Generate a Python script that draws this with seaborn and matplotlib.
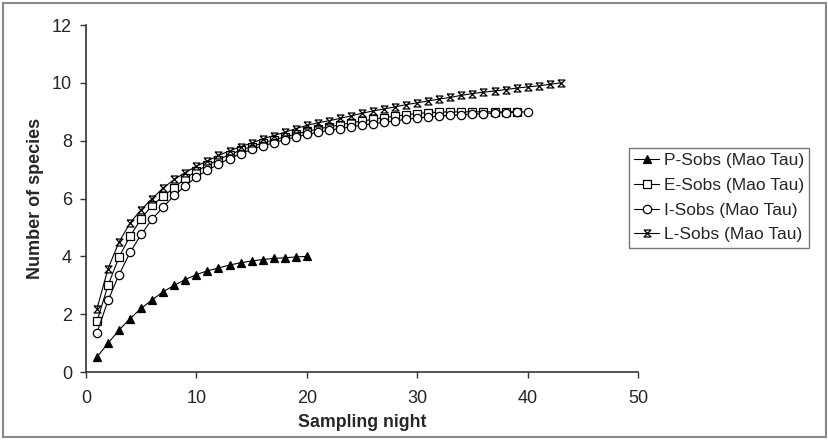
import pandas as pd
import seaborn as sns
import matplotlib.pyplot as plt
from matplotlib.patches import Rectangle

# Species accumulation values
p_sobs = [0.52, 1.0, 1.45, 1.85, 2.2, 2.5, 2.78, 3.0, 3.2, 3.37,
          3.5, 3.6, 3.7, 3.78, 3.84, 3.89, 3.93, 3.95, 3.98, 4.0]
e_sobs = [1.76, 3.0, 3.98, 4.7, 5.3, 5.77, 6.08, 6.38, 6.7, 6.95,
          7.15, 7.35, 7.52, 7.67, 7.8, 7.92, 8.03, 8.13, 8.23, 8.32,
          8.4, 8.48, 8.55, 8.62, 8.68, 8.74, 8.8, 8.85, 8.9, 8.94,
          8.97, 8.99, 9.0, 9.0, 9.0, 9.0, 9.0, 9.0, 9.0]
i_sobs = [1.36, 2.48, 3.37, 4.14, 4.76, 5.29, 5.71, 6.11, 6.44, 6.75,
          6.98, 7.19, 7.38, 7.55, 7.7, 7.82, 7.93, 8.04, 8.13, 8.22,
          8.29, 8.36, 8.42, 8.48, 8.54, 8.59, 8.64, 8.69, 8.74, 8.79,
          8.82, 8.85, 8.88, 8.9, 8.92, 8.94, 8.96, 8.97, 8.99, 9.0]
l_sobs = [2.19, 3.58, 4.5, 5.16, 5.62, 6.0, 6.37, 6.66, 6.9, 7.12,
          7.3, 7.49, 7.65, 7.79, 7.92, 8.06, 8.18, 8.29, 8.42, 8.53,
          8.62, 8.69, 8.77, 8.86, 8.95, 9.03, 9.1, 9.17, 9.25, 9.31,
          9.38, 9.44, 9.5, 9.57, 9.63, 9.68, 9.72, 9.77, 9.82, 9.86,
          9.9, 9.95, 10.0]

series_names = ['P-Sobs (Mao Tau)', 'E-Sobs (Mao Tau)',
                'I-Sobs (Mao Tau)', 'L-Sobs (Mao Tau)']
series_values = [p_sobs, e_sobs, i_sobs, l_sobs]

hourglass = [(-1, 1), (1, 1), (-1, -1), (1, -1), (-1, 1)]
styles = [
    dict(marker='^', markerfacecolor='black', markersize=6),
    dict(marker='s', markerfacecolor='white', markersize=5.5),
    dict(marker='o', markerfacecolor='white', markersize=6),
    dict(marker=hourglass, markerfacecolor='none', markersize=5),
]

sns.set_style("ticks")
plt.rcParams['font.family'] = ['Liberation Sans', 'DejaVu Sans']

fig = plt.figure(figsize=(8.29, 4.40), dpi=100)
ax = fig.add_axes([0.1037, 0.1545, 0.666, 0.7885])

for name, vals, st in zip(series_names, series_values, styles):
    df = pd.DataFrame({'night': range(1, len(vals) + 1), 'species': vals})
    sns.lineplot(data=df, x='night', y='species', ax=ax, color='black',
                 linewidth=0.8, markeredgecolor='black', markeredgewidth=0.9,
                 label=name, **st)

ax.set_xlim(0, 50)
ax.set_ylim(0, 12)
ax.set_xticks(range(0, 51, 10))
ax.set_yticks(range(0, 13, 2))
ax.tick_params(length=4, width=1, color='#333333', labelsize=13)
ax.tick_params(axis='x', pad=9)
ax.tick_params(axis='y', pad=6)
ax.set_xlabel('Sampling night', fontsize=12.8, fontweight='bold', labelpad=5)
ax.set_ylabel('Number of species', fontsize=13, fontweight='bold', labelpad=6)
sns.despine(ax=ax)
for side in ['left', 'bottom']:
    ax.spines[side].set_color('#333333')
    ax.spines[side].set_linewidth(1.2)

leg = ax.legend(loc='upper left', bbox_to_anchor=(0.759, 0.664),
                bbox_transform=fig.transFigure, fancybox=False, frameon=True,
                edgecolor='#555555', fontsize=12.5, handlelength=1.4,
                handletextpad=0.3, borderpad=0.3, labelspacing=0.55,
                borderaxespad=0)
leg.get_frame().set_linewidth(1.0)

# grey frame around the whole chart
fig.patches.append(Rectangle((0.004, 0.006), 0.992, 0.988, transform=fig.transFigure,
                             fill=False, edgecolor='#888888', linewidth=1.5))

plt.savefig('out.png', dpi=100)
plt.close()
